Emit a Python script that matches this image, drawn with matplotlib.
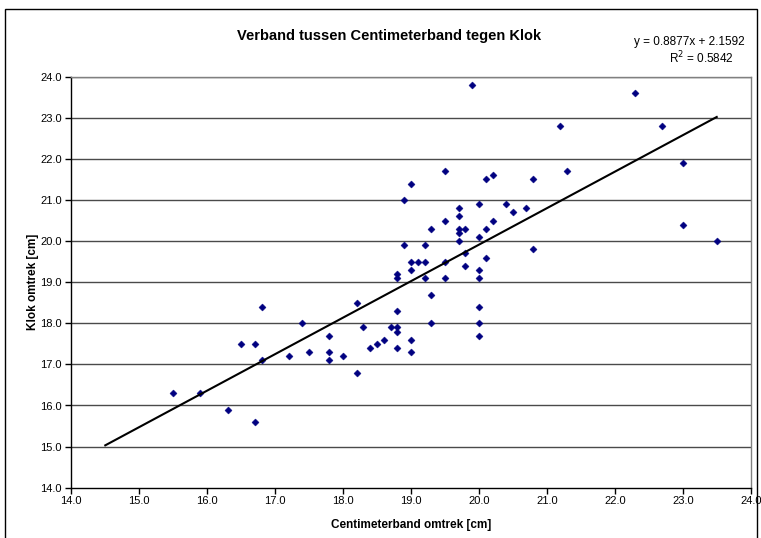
import matplotlib
matplotlib.use("Agg")
import matplotlib.pyplot as plt
import numpy as np
from matplotlib.patches import Rectangle

plt.rcParams['font.family'] = ['Liberation Sans', 'DejaVu Sans']

# Data
centimeterband = [15.5, 15.9, 16.3, 16.7, 16.8, 16.5, 16.7, 16.8, 17.2, 17.4,
                  17.5, 17.8, 17.8, 17.8, 18.0, 18.2, 18.2, 18.3, 18.4, 18.5,
                  18.6, 18.7, 18.8, 18.8, 18.8, 18.8, 18.8, 18.8, 19.0, 19.0,
                  19.1, 19.2, 19.2, 19.0, 19.0, 19.3, 19.3, 19.5, 19.5, 19.8,
                  19.8, 20.0, 20.0, 20.0, 20.0, 20.0, 20.1, 20.8, 19.9, 19.5,
                  19.0, 18.9, 20.1, 20.2, 20.8, 20.0, 20.4, 19.7, 20.5, 20.7,
                  19.7, 19.5, 20.2, 19.3, 19.7, 19.8, 20.1, 19.7, 20.0, 19.7,
                  18.9, 19.2, 22.3, 21.2, 22.7, 21.3, 23.0, 23.0, 23.5]
klok = [16.3, 16.3, 15.9, 15.6, 18.4, 17.5, 17.5, 17.1, 17.2, 18.0,
        17.3, 17.7, 17.3, 17.1, 17.2, 16.8, 18.5, 17.9, 17.4, 17.5,
        17.6, 17.9, 17.9, 17.8, 17.4, 18.3, 19.2, 19.1, 19.3, 19.5,
        19.5, 19.5, 19.1, 17.6, 17.3, 18.7, 18.0, 19.5, 19.1, 19.7,
        19.4, 19.3, 19.1, 18.4, 18.0, 17.7, 19.6, 19.8, 23.8, 21.7,
        21.4, 21.0, 21.5, 21.6, 21.5, 20.9, 20.9, 20.8, 20.7, 20.8,
        20.6, 20.5, 20.5, 20.3, 20.3, 20.3, 20.3, 20.2, 20.1, 20.0,
        19.9, 19.9, 23.6, 22.8, 22.8, 21.7, 21.9, 20.4, 20.0]

slope = 0.8877
intercept = 2.1592
r_squared = 0.5842
backward_forecast = 1.0

x_ticks = [14.0, 15.0, 16.0, 17.0, 18.0, 19.0, 20.0, 21.0, 22.0, 23.0, 24.0]
y_ticks = [14.0, 15.0, 16.0, 17.0, 18.0, 19.0, 20.0, 21.0, 22.0, 23.0, 24.0]

title = "Verband tussen Centimeterband tegen Klok"
xlabel = "Centimeterband omtrek [cm]"
ylabel = "Klok omtrek [cm]"

W, H = 761, 538
fig = plt.figure(figsize=(W / 100, H / 100), dpi=100)
fig.patch.set_facecolor('white')

# outer chart border
fig.patches.append(Rectangle((4.5 / W, -0.1), (756.5 - 4.5) / W, 1.1 - 9.5 / H,
                             transform=fig.transFigure, fill=False,
                             edgecolor='black', linewidth=1.0))

l, r, t, b = 71.3, 750.7, 76.7, 487.7
ax = fig.add_axes([l / W, 1 - b / H, (r - l) / W, (b - t) / H])

ax.set_xlim(14, 24)
ax.set_ylim(14, 24)

for yv in y_ticks[1:]:
    ax.axhline(yv, color='#4a4a4a', linewidth=1.0, zorder=1)

ax.scatter(centimeterband, klok, marker='D', s=13, color='#000080',
           edgecolors='#000080', linewidths=0.3, zorder=3)

x0 = min(centimeterband) - backward_forecast
x1 = max(centimeterband)
xs = np.array([x0, x1])
ax.plot(xs, slope * xs + intercept, color='black', linewidth=1.5, zorder=4)

ax.set_xticks(x_ticks)
ax.set_yticks(y_ticks)
ax.set_xticklabels([f"{v:.1f}" for v in x_ticks], fontsize=8)
ax.set_yticklabels([f"{v:.1f}" for v in y_ticks], fontsize=8)
ax.tick_params(axis='both', direction='out', length=4, width=1, color='black', pad=3)
ax.tick_params(axis='x', pad=2)

for s in ['left', 'bottom']:
    ax.spines[s].set_color('black')
    ax.spines[s].set_linewidth(1.0)
for s in ['top', 'right']:
    ax.spines[s].set_color('#808080')
    ax.spines[s].set_linewidth(1.0)

ax.set_xlabel(xlabel, fontsize=8.5, fontweight='bold', labelpad=9)
ax.set_ylabel(ylabel, fontsize=8.5, fontweight='bold', labelpad=1)

fig.text(389 / W, 1 - 36 / H, title, fontsize=10.5, fontweight='bold',
         ha='center', va='center')
fig.text(689 / W, 1 - 42 / H, f"y = {slope:.4f}x + {intercept:.4f}", fontsize=8.5,
         ha='center', va='center')
fig.text(701 / W, 1 - 58 / H, f"R$^2$ = {r_squared:.4f}", fontsize=8.5,
         ha='center', va='center')

fig.savefig("out.png", dpi=100)
